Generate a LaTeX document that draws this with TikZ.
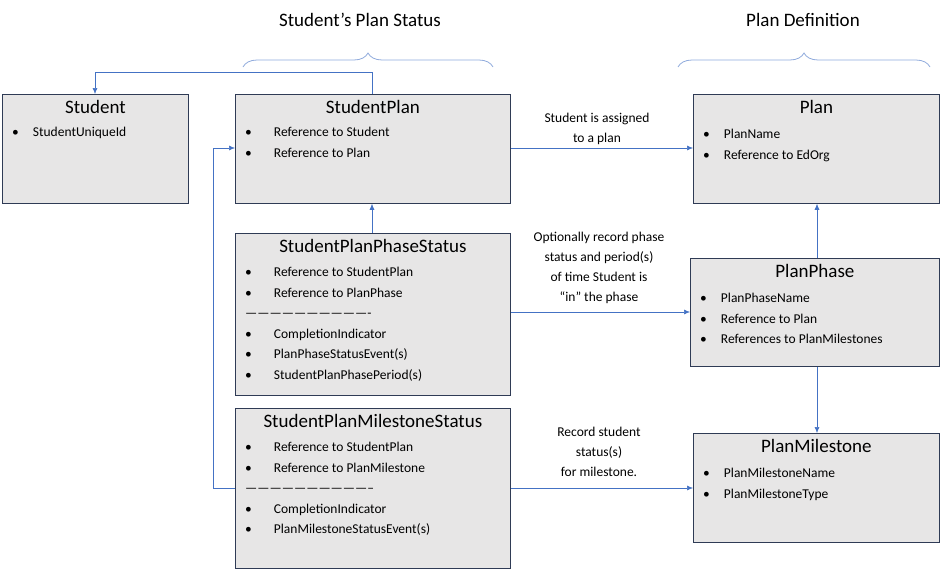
\documentclass[tikz,border=0pt]{standalone}
\usepackage{fontspec}
\setmainfont{Carlito}
\usetikzlibrary{arrows.meta,decorations.pathreplacing}
\definecolor{boxfill}{HTML}{E7E6E6}
\definecolor{boxline}{HTML}{2F3B55}
\definecolor{link}{HTML}{4472C4}
\definecolor{brace}{HTML}{8FAADC}
\tikzset{
  box/.style={draw=boxline,fill=boxfill,thick,anchor=north west,inner sep=0pt},
  title/.style={anchor=north,inner sep=0pt,font=\fontsize{19}{22}\selectfont},
  items/.style={anchor=north west,inner sep=0pt,font=\fontsize{13.5}{20.5}\selectfont},
  note/.style={align=center,font=\fontsize{13.5}{20}\selectfont},
  link/.style={draw=link,-{Latex[length=6pt,width=5pt]},semithick},
  head/.style={font=\fontsize{19}{22}\selectfont}
}
\newcommand{\bl}[1]{\textbullet & #1\\}
\begin{document}
\begin{tikzpicture}[x=1pt,y=-1pt]
\useasboundingbox (0,0) rectangle (940,568);

% headings and braces
\node[head] (hdstatus) at (360,20) {Student’s Plan Status};
\node[head] (hddef) at (803,20) {Plan Definition};
\draw[brace,thick,decorate,decoration={brace,amplitude=14pt}] (243,67) -- (493,67);
\draw[brace,thick,decorate,decoration={brace,amplitude=14pt}] (678,67) -- (930,67);

% left column
\node[box,minimum width=186,minimum height=109] (S) at (2,94) {};
\node[title] at ([yshift=-6]S.north) {Student};
\node[items] at ([xshift=10,yshift=-28]S.north west) {\begin{tabular}{@{}l@{\hspace{14pt}}l@{}}
\bl{StudentUniqueId}\end{tabular}};

% student side
\node[box,minimum width=275,minimum height=109] (SP) at (235,94) {};
\node[title] at ([yshift=-6]SP.north) {StudentPlan};
\node[items] at ([xshift=10,yshift=-28]SP.north west) {\begin{tabular}{@{}l@{\hspace{22pt}}l@{}}
\bl{Reference to Student}\bl{Reference to Plan}\end{tabular}};

\node[box,minimum width=275,minimum height=162] (SPP) at (235,233) {};
\node[title] at ([yshift=-6]SPP.north) {StudentPlanPhaseStatus};
\node[items] at ([xshift=10,yshift=-29]SPP.north west) {\begin{tabular}{@{}l@{\hspace{22pt}}l@{}}
\bl{Reference to StudentPlan}\bl{Reference to PlanPhase}
\multicolumn{2}{@{}l@{}}{-------------------------------}\\
\bl{CompletionIndicator}\bl{PlanPhaseStatusEvent(s)}\bl{StudentPlanPhasePeriod(s)}\end{tabular}};

\node[box,minimum width=275,minimum height=160] (SPM) at (235,408) {};
\node[title] at ([yshift=-6]SPM.north) {StudentPlanMilestoneStatus};
\node[items] at ([xshift=10,yshift=-29]SPM.north west) {\begin{tabular}{@{}l@{\hspace{22pt}}l@{}}
\bl{Reference to StudentPlan}\bl{Reference to PlanMilestone}
\multicolumn{2}{@{}l@{}}{--------------------------------}\\
\bl{CompletionIndicator}\bl{PlanMilestoneStatusEvent(s)}\end{tabular}};

% plan side
\node[box,minimum width=246,minimum height=109] (P) at (693,94) {};
\node[title] at ([yshift=-6]P.north) {Plan};
\node[items] at ([xshift=10,yshift=-30]P.north west) {\begin{tabular}{@{}l@{\hspace{14pt}}l@{}}
\bl{PlanName}\bl{Reference to EdOrg}\end{tabular}};

\node[box,minimum width=249,minimum height=108] (PP) at (690,258) {};
\node[title] at ([yshift=-6]PP.north) {PlanPhase};
\node[items] at ([xshift=10,yshift=-30]PP.north west) {\begin{tabular}{@{}l@{\hspace{14pt}}l@{}}
\bl{PlanPhaseName}\bl{Reference to Plan}\bl{References to PlanMilestones}\end{tabular}};

\node[box,minimum width=246,minimum height=109] (PM) at (693,433) {};
\node[title] at ([yshift=-6]PM.north) {PlanMilestone};
\node[items] at ([xshift=10,yshift=-30]PM.north west) {\begin{tabular}{@{}l@{\hspace{14pt}}l@{}}
\bl{PlanMilestoneName}\bl{PlanMilestoneType}\end{tabular}};

% connectors
\coordinate (up) at (372,72);
\draw[link] (SP.north -| up) |- (95,72) -- (S.north -| 95,0);
\draw[link] (SPM.west |- 0,488) -- (213,488) |- (SP.west |- 0,148);
\draw[link] (SPP.north -| up) -- (SP.south -| up);
\draw[link] (SP.east |- 0,148) -- (P.west |- 0,148);
\draw[link] (SPP.east |- 0,312) -- (PP.west |- 0,312);
\draw[link] (SPM.east |- 0,488) -- (PM.west |- 0,488);
\draw[link] (PP.north -| 817,0) -- (P.south -| 817,0);
\draw[link] (PP.south -| 817,0) -- (PM.north -| 817,0);

% labels
\node[note] (lbassign) at (597,129) {Student is assigned\\to a plan};
\node[note] (lbphase) at (599,268) {Optionally record phase\\status and period(s)\\of time Student is\\“in” the phase};
\node[note] (lbmile) at (599,452) {Record student\\status(s)\\for milestone.};
\end{tikzpicture}
\end{document}
